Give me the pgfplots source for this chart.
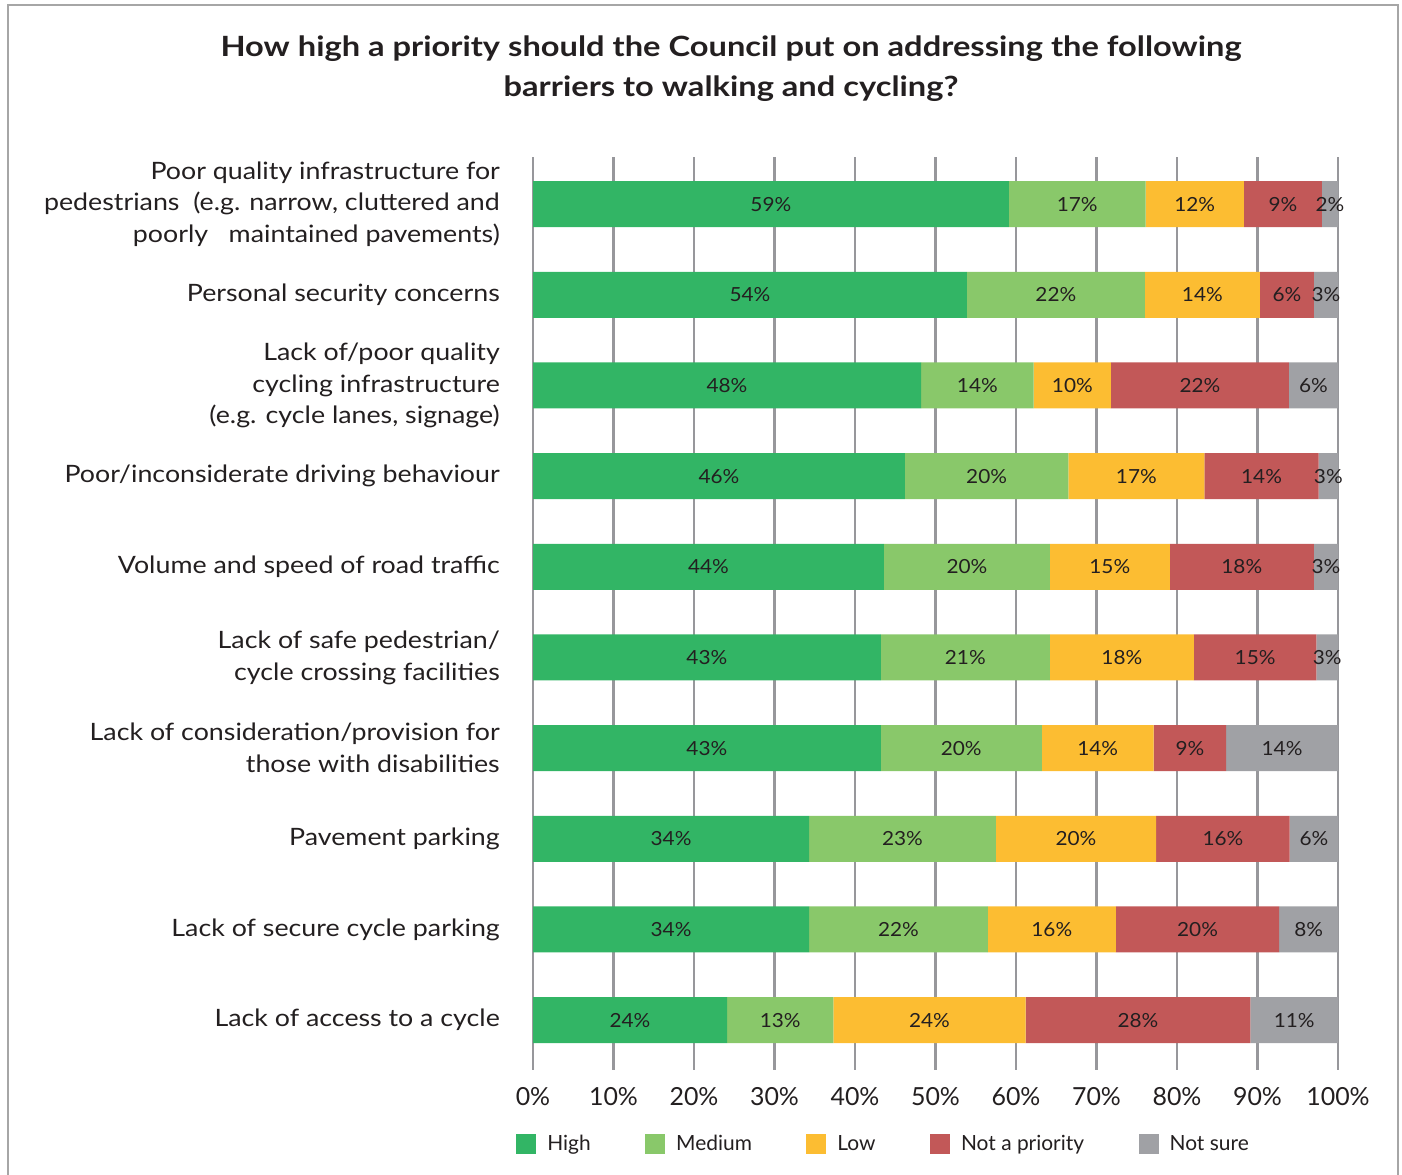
\documentclass[border=0pt]{standalone}
\usepackage{pgfplots}
\pgfplotsset{compat=1.18}
\usepackage{pgfplotstable}
\usepackage{fontspec}
\setmainfont{Lato}
\newfontfamily\catfont{Lato}[FakeStretch=1.12]
\newfontfamily\titfont{Lato}[FakeStretch=1.17]
\newfontfamily\barfont{Lato}[FakeStretch=1.07]
\definecolor{cHigh}{HTML}{32B565}
\definecolor{cMed}{HTML}{89C86A}
\definecolor{cLow}{HTML}{FCBD32}
\definecolor{cNot}{HTML}{C25858}
\definecolor{cUns}{HTML}{A0A1A5}
\definecolor{cGrid}{HTML}{97979B}
\definecolor{cText}{HTML}{231F20}
\pgfplotstableread{
y high hl med ml low ll np nl ns nsl
1 59.1 59 17.0 17 12.2 12 9.7 9 2.0 2
2 53.9 54 22.1 22 14.3 14 6.7 6 3.0 3
3 48.2 48 14.0 14 9.6 10 22.1 22 6.1 6
4 46.2 46 20.3 20 16.9 17 14.2 14 2.4 3
5 43.6 44 20.6 20 14.9 15 17.9 18 3.0 3
6 43.2 43 21.0 21 17.9 18 15.2 15 2.7 3
7 43.2 43 20.0 20 13.9 14 9.0 9 13.9 14
8 34.3 34 23.2 23 19.9 20 16.6 16 6.0 6
9 34.3 34 22.2 22 15.9 16 20.3 20 7.3 8
10 24.1 24 13.2 13 23.9 24 27.9 28 10.9 11
}\data
\begin{document}
\begin{tikzpicture}
\useasboundingbox (0,0) rectangle (1402bp,-1175bp);
\draw[gray!70, line width=1.2bp] (8bp,-1200bp) -- (8bp,-5bp) -- (1398bp,-5bp) -- (1398bp,-1200bp);
\node[font=\titfont\bfseries\fontsize{28}{40}\selectfont, align=center, text=cText] at (731bp,-68.5bp)
  {How high a priority should the Council put on addressing the following\\barriers to walking and cycling?};
\begin{axis}[
  at={(533bp,-1070bp)}, anchor=south west,
  scale only axis, width=805bp, height=913bp,
  xbar stacked, bar width=46bp,
  xmin=0, xmax=100, ymin=0.48, ymax=10.55, y dir=reverse,
  axis line style={draw=none},
  tick style={draw=none},
  xmajorgrids, grid style={cGrid, line width=2.2bp},
  xtick={0,10,...,100},
  xticklabel={\pgfmathprintnumber{\tick}\%},
  /pgf/number format/assume math mode=true,
  xticklabel style={font=\fontsize{25}{25}\selectfont, text=cText, inner sep=0pt, anchor=north},
  xticklabel shift=17bp,
  ytick={1,...,10},
  yticklabels={
    {Poor quality infrastructure for\\pedestrians\ \ (e.g. narrow, cluttered and\\poorly\ \ \ maintained pavements)},
    {Personal security concerns},
    {Lack of/poor quality\\cycling infrastructure\\(e.g. cycle lanes, signage)},
    {Poor/inconsiderate driving behaviour},
    {Volume and speed of road traffic},
    {Lack of safe pedestrian/\\cycle crossing facilities},
    {Lack of consideration/provision for\\those with disabilities},
    {Pavement parking},
    {Lack of secure cycle parking},
    {Lack of access to a cycle}},
  yticklabel style={font=\catfont\fontsize{24}{32}\selectfont, text=cText, align=right, inner sep=0pt, anchor=east},
  yticklabel shift=33bp,
  point meta=explicit symbolic,
  nodes near coords={\pgfplotspointmeta\%},
  every node near coord/.append style={font=\barfont\fontsize{19.5}{20}\selectfont, text=cText},
  legend columns=5,
  legend image code/.code={\path[#1] (0bp,-10bp) rectangle (20bp,10bp);},
  legend style={at={(-0.021,-0.081)}, anchor=west, draw=none, inner sep=0pt,
    font=\fontsize{21}{21}\selectfont, text=cText,
    /tikz/every even column/.append style={column sep=54.5bp},
    nodes={inner xsep=0pt}},
]
\addplot[fill=cHigh, draw=none] table[x=high, y=y, meta=hl] {\data};
\addplot[fill=cMed, draw=none] table[x=med, y=y, meta=ml] {\data};
\addplot[fill=cLow, draw=none] table[x=low, y=y, meta=ll] {\data};
\addplot[fill=cNot, draw=none] table[x=np, y=y, meta=nl] {\data};
\addplot[fill=cUns, draw=none] table[x=ns, y=y, meta=nsl] {\data};
\legend{\hspace{11bp}High, \hspace{11bp}Medium, \hspace{11bp}Low, \hspace{11bp}Not a priority, \hspace{11bp}Not sure}
\end{axis}
\end{tikzpicture}
\end{document}
